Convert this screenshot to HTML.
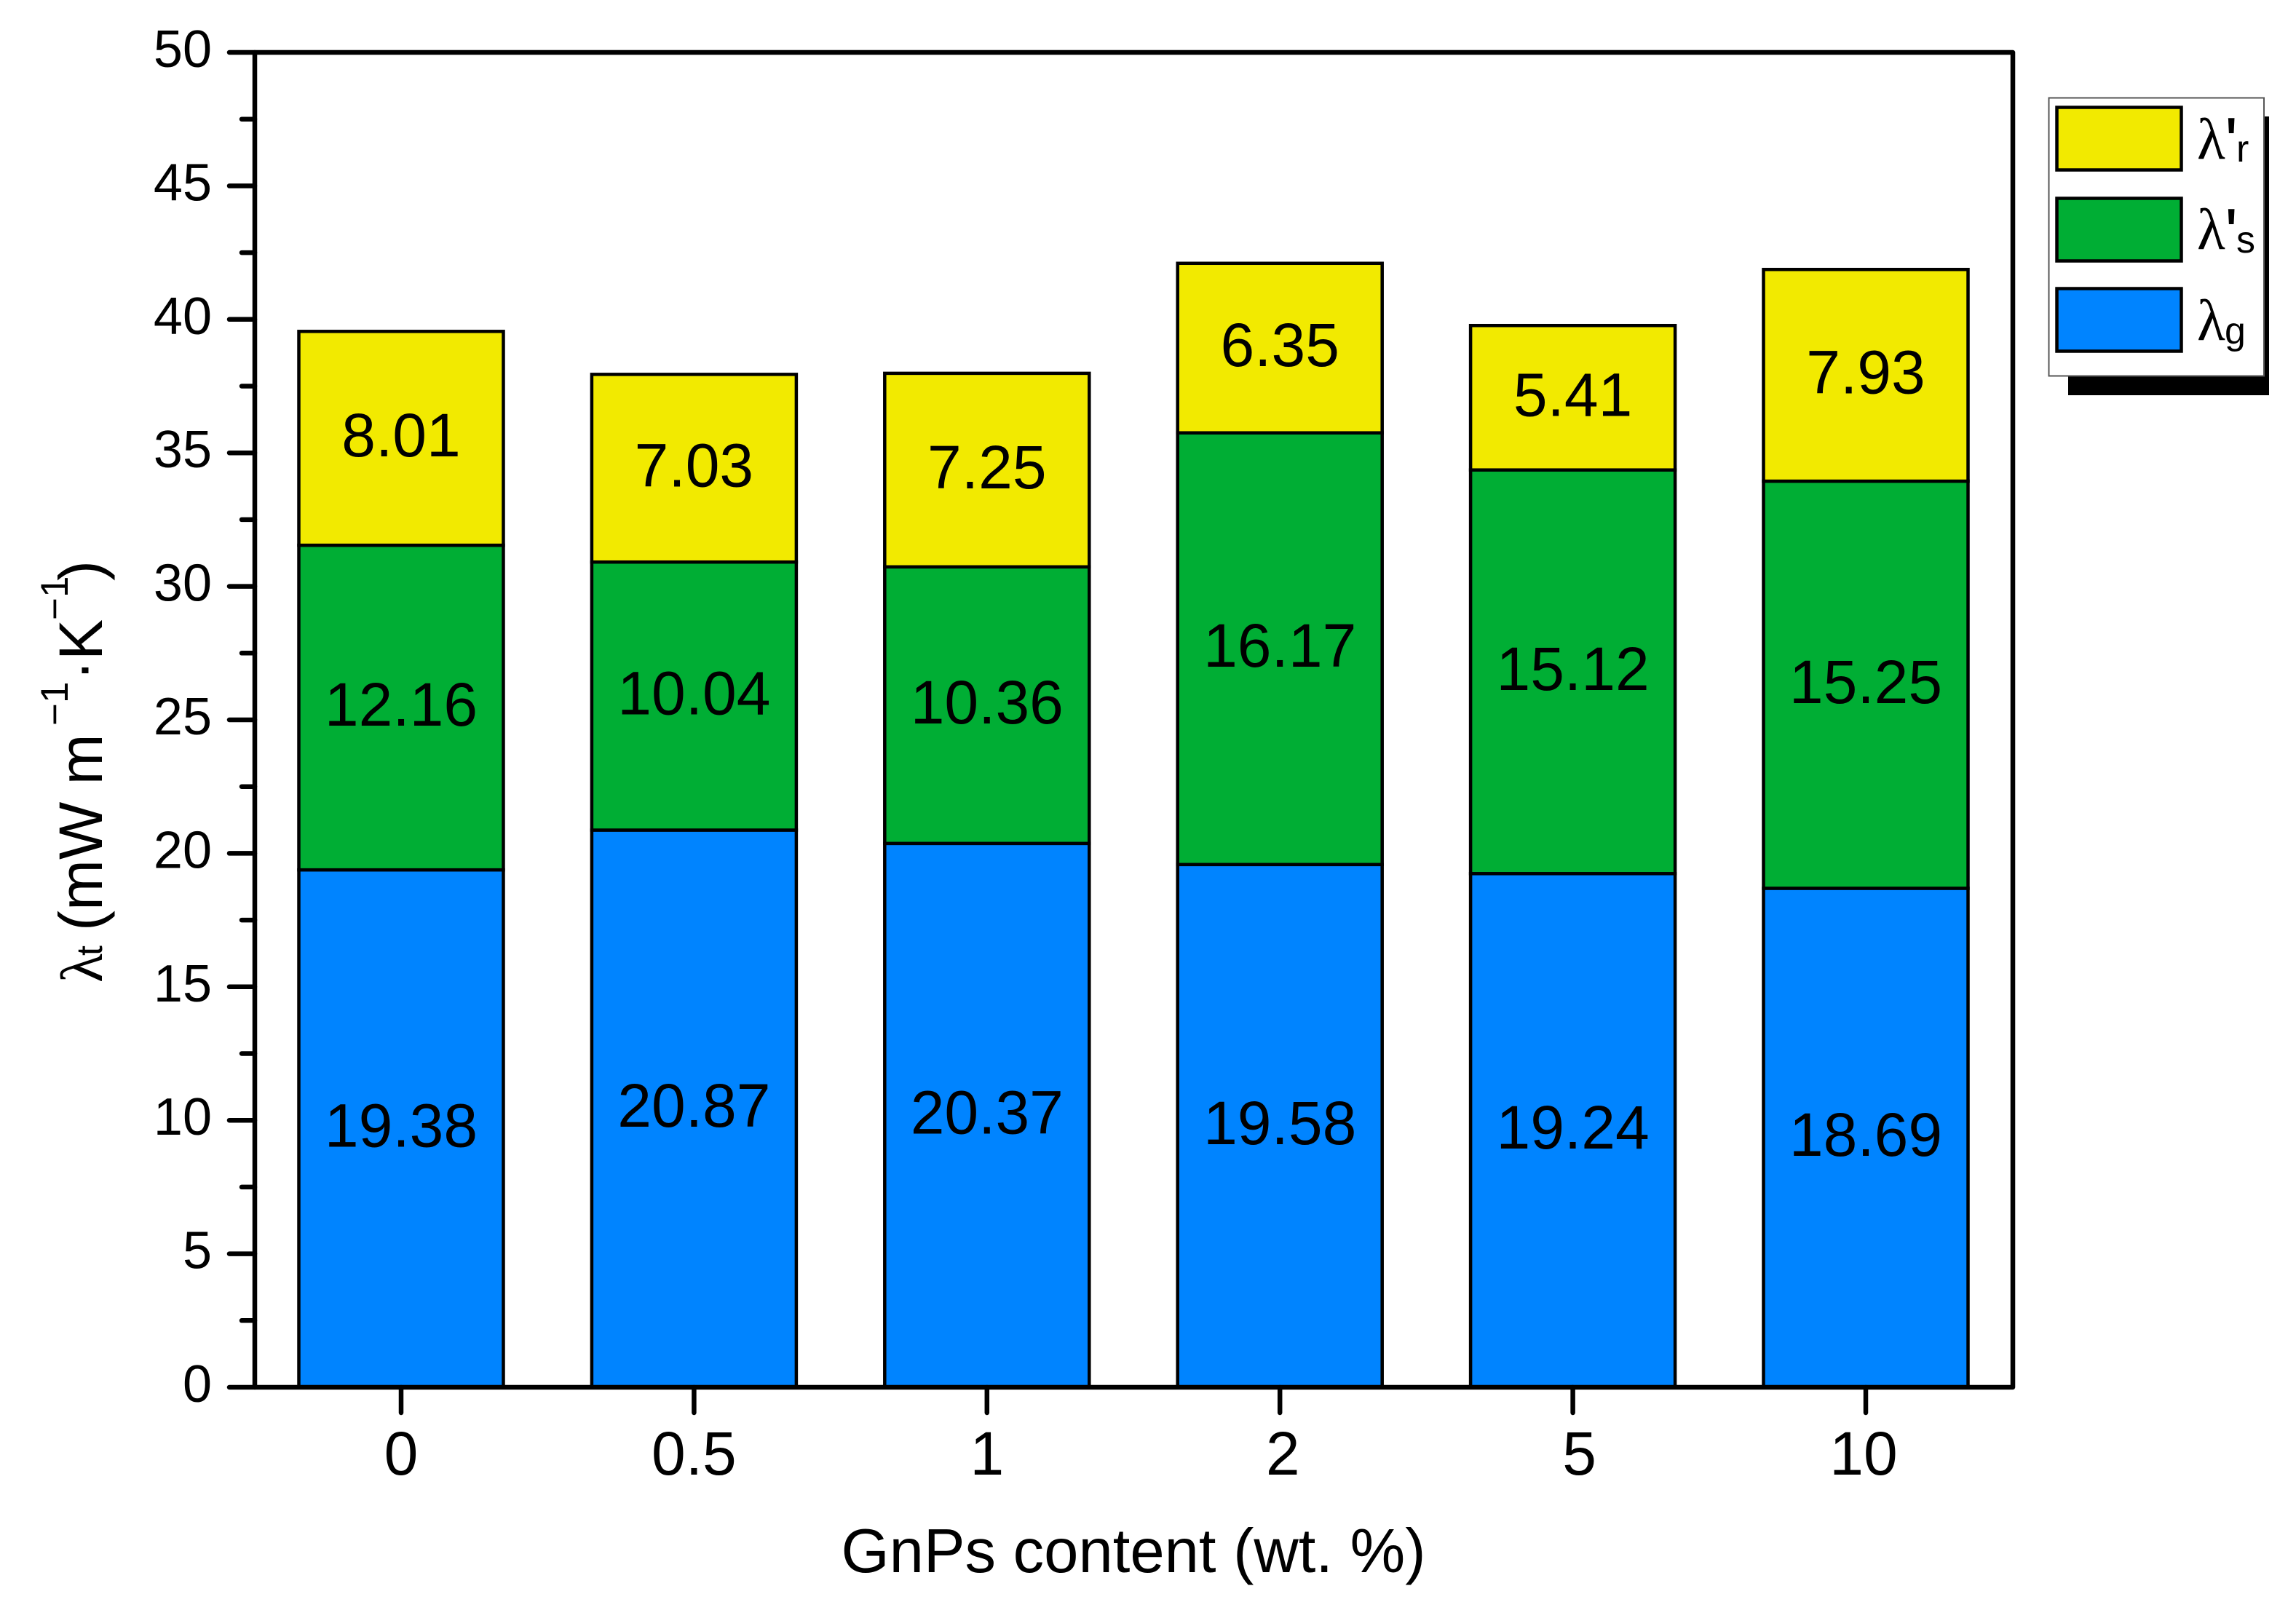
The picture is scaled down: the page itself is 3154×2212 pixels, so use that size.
<!DOCTYPE html>
<html lang="en">
<head>
<meta charset="utf-8">
<title>GnPs content stacked bar chart</title>
<style>
  html, body { margin: 0; padding: 0; background: #fff; }
  #stage { position: relative; width: 3154px; height: 2212px; overflow: hidden; background: #fff; }
  svg { display: block; }
  text { font-family: "Liberation Sans", Arial, sans-serif; fill: #000; }
  .greek { font-family: "Liberation Serif", "Times New Roman", serif; }
</style>
</head>
<body>
<div id="stage">
<svg id="chart" xmlns="http://www.w3.org/2000/svg" width="3154" height="2212" viewBox="0 0 3154 2212">
  <rect x="0" y="0" width="3154" height="2212" fill="#ffffff"/>
  <g id="bars"></g>
  <g id="values"></g>
  <g id="axes"></g>

  <text x="1557" y="2160" font-size="85" text-anchor="middle">GnPs content (wt. %)</text>

  <g transform="translate(140,1347) rotate(-90)">
    <text class="greek" x="-3" y="0" font-size="82">λ</text>
    <text x="34" y="0" font-size="50">t</text>
    <text x="68" y="0" font-size="84">(mW m</text>
    <text x="350" y="-47" font-size="53">−1</text>
    <text x="412" y="0" font-size="84">·K</text>
    <text x="495" y="-47" font-size="53">−1</text>
    <text x="549" y="0" font-size="84">)</text>
  </g>

  <g>
    <rect x="2841" y="160" width="276" height="383" fill="#000"/>
    <rect x="2814.5" y="134.5" width="295.5" height="382" fill="#fff" stroke="#555" stroke-width="2"/>

    <g>
      <rect x="2825.5" y="147.5" width="171" height="86" fill="#F2EA00" stroke="#000" stroke-width="4.5"/>
      <text class="greek" x="3018" y="218" font-size="80">λ</text>
      <text x="3056" y="228" font-size="96">'</text>
      <text x="3072" y="222" font-size="52">r</text>
    </g>
    <g>
      <rect x="2825.5" y="272.5" width="171" height="86" fill="#00AE34" stroke="#000" stroke-width="4.5"/>
      <text class="greek" x="3018" y="342" font-size="80">λ</text>
      <text x="3056" y="353" font-size="96">'</text>
      <text x="3072" y="347" font-size="52">s</text>
    </g>
    <g>
      <rect x="2825.5" y="396.5" width="171" height="86" fill="#0084FF" stroke="#000" stroke-width="4.5"/>
      <text class="greek" x="3018" y="467" font-size="80">λ</text>
      <text x="3056" y="472" font-size="52">g</text>
    </g>
  </g>
</svg>
</div>
<script>
const categories = ['0', '0.5', '1', '2', '5', '10'];
const lambdaG = [19.38, 20.87, 20.37, 19.58, 19.24, 18.69];
const lambdaS = [12.16, 10.04, 10.36, 16.17, 15.12, 15.25];
const lambdaR = [8.01, 7.03, 7.25, 6.35, 5.41, 7.93];
const yTickValues = [0, 5, 10, 15, 20, 25, 30, 35, 40, 45, 50];

const SVG_NS = 'http://www.w3.org/2000/svg';
const plot = { left: 350, right: 2765, top: 72, bottom: 1906 };
const yMax = 50;
const firstCenter = 551;
const step = 402.4;
const barWidth = 281;

function xScale(i) { return firstCenter + i * step; }
function yScale(v) { return plot.bottom - (v / yMax) * (plot.bottom - plot.top); }

// Hand-placed offset of a few x tick labels in the original figure.
function xLabelOffset(cat) {
  if (cat === '2') return 4;
  if (cat === '5') return 9;
  if (cat === '10') return -3;
  return 0;
}

function make(tag, attrs, parent) {
  const el = document.createElementNS(SVG_NS, tag);
  for (const k in attrs) el.setAttribute(k, attrs[k]);
  parent.appendChild(el);
  return el;
}

const barsG = document.getElementById('bars');
const valuesG = document.getElementById('values');
const axesG = document.getElementById('axes');

const seriesDefs = [
  { key: 'g', values: lambdaG, color: '#0084FF' },
  { key: 's', values: lambdaS, color: '#00AE34' },
  { key: 'r', values: lambdaR, color: '#F2EA00' }
];

categories.forEach(function (cat, i) {
  let base = 0;
  seriesDefs.forEach(function (s) {
    const v = s.values[i];
    const yTop = yScale(base + v);
    const yBot = yScale(base);
    const rect = make('rect', {
      x: xScale(i) - barWidth / 2,
      y: yTop,
      width: barWidth,
      height: yBot - yTop,
      fill: s.color,
      stroke: '#000',
      'stroke-width': 4.5
    }, barsG);
    
    

    const label = make('text', {
      x: xScale(i),
      y: yScale(base + v / 2) + 25,
      'font-size': 84,
      'text-anchor': 'middle'
    }, valuesG);
    label.textContent = v.toFixed(2);
    
    

    base += v;
  });
});

const frame = make('rect', {
  x: plot.left,
  y: plot.top,
  width: plot.right - plot.left,
  height: plot.bottom - plot.top,
  fill: 'none',
  stroke: '#000',
  'stroke-width': 6.5,
  'stroke-linejoin': 'round'
}, axesG);



yTickValues.forEach(function (v, i) {
  const y = yScale(v);
  const tick = make('line', {
    x1: 315, x2: plot.left, y1: y, y2: y,
    stroke: '#000', 'stroke-width': 6.5, 'stroke-linecap': 'round'
  }, axesG);
  
  

  const label = make('text', {
    x: 291, y: y + 20, 'font-size': 72, 'text-anchor': 'end'
  }, axesG);
  label.textContent = String(v);
  
  

  if (i < yTickValues.length - 1) {
    const mid = (v + yTickValues[i + 1]) / 2;
    const ym = yScale(mid);
    const minor = make('line', {
      x1: 332, x2: plot.left, y1: ym, y2: ym,
      stroke: '#000', 'stroke-width': 6.5, 'stroke-linecap': 'round'
    }, axesG);
    
    
  }
});

categories.forEach(function (cat, i) {
  const x = xScale(i);
  const tick = make('line', {
    x1: x, x2: x, y1: plot.bottom, y2: 1941,
    stroke: '#000', 'stroke-width': 6.5, 'stroke-linecap': 'round'
  }, axesG);
  
  

  const label = make('text', {
    x: x + xLabelOffset(cat), y: 2026, 'font-size': 84, 'text-anchor': 'middle'
  }, axesG);
  label.textContent = cat;
  
  
});
</script>
</body>
</html>
